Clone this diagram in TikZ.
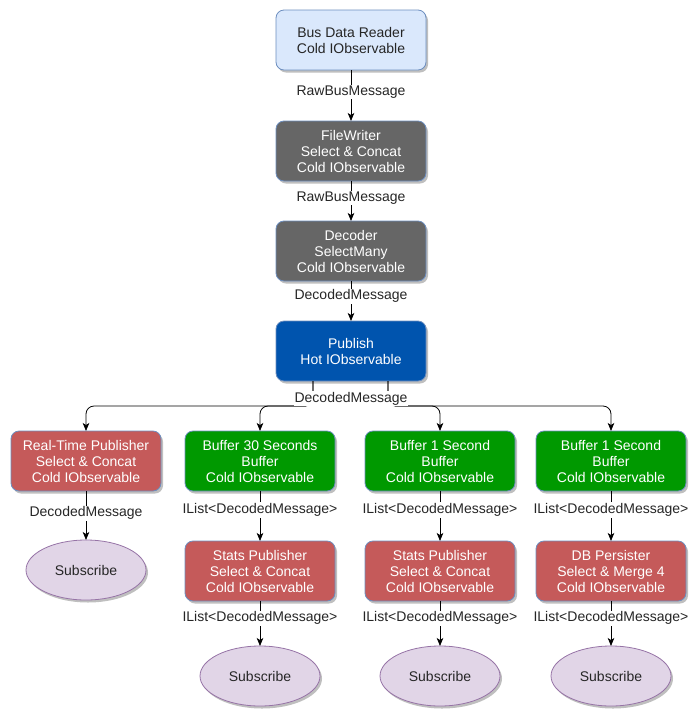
\documentclass[tikz,border=0pt]{standalone}
\usepackage{fontspec}
\setmainfont{Liberation Sans}
\usepackage{tikz}
\usetikzlibrary{positioning}
\usetikzlibrary{shapes.geometric}
\usetikzlibrary{shadows}
\usetikzlibrary{arrows.meta}

\definecolor{readerblue}{HTML}{DAE8FC}
\definecolor{edgeblue}{HTML}{6C8EBF}
\definecolor{opgray}{HTML}{666666}
\definecolor{hotblue}{HTML}{0054AE}
\definecolor{pubred}{HTML}{C55A5A}
\definecolor{bufgreen}{HTML}{009900}
\definecolor{subfill}{HTML}{E1D5E7}
\definecolor{subdraw}{HTML}{9673A6}

\begin{document}
\begin{tikzpicture}[
                          x=1pt, y=1pt,
                          font=\fontsize{14}{16}\selectfont,
                          box/.style={rectangle, rounded corners=8pt, draw=edgeblue, line width=0.8pt, minimum width=150pt, minimum height=60pt, inner sep=0pt, outer sep=0pt, align=center, drop shadow={shadow xshift=2pt, shadow yshift=-2.5pt, fill=black, opacity=0.25}},
                          readerbox/.style={box, fill=readerblue, text=black!85},
                          graybox/.style={box, fill=opgray, text=white},
                          hotbox/.style={box, fill=hotblue, text=white},
                          redbox/.style={box, fill=pubred, text=white},
                          greenbox/.style={box, fill=bufgreen, text=white},
                          subnode/.style={ellipse, draw=subdraw, fill=subfill, line width=0.8pt, minimum width=120pt, minimum height=60pt, inner sep=0pt, outer sep=0pt, text=black!85, drop shadow={shadow xshift=2pt, shadow yshift=-2.5pt, fill=black, opacity=0.25}},
                          lbl/.style={fill=white, inner sep=1pt, text=black!85},
                          flow/.style={-{Stealth[length=8pt, width=6.5pt, inset=2pt]}, line width=0.8pt},
                      ]
                      \useasboundingbox (0,0) rectangle (699,-721);

                      %Nodes
                      \node[readerbox]   (reader)                                        at (351,-40) {Bus Data Reader\\Cold IObservable};
                      \node[graybox]     (writer)   [below=51pt of reader]               {FileWriter\\Select \& Concat\\Cold IObservable};
                      \node[graybox]     (decoder)  [below=40pt of writer]               {Decoder\\SelectMany\\Cold IObservable};
                      \node[hotbox]      (publish)  [below=40pt of decoder]              {Publish\\Hot IObservable};
                      \node[redbox]      (rtpub)    [below=50pt of publish, xshift=-265pt] {Real-Time Publisher\\Select \& Concat\\Cold IObservable};
                      \node[greenbox]    (buf30)    [below=50pt of publish, xshift=-91pt]  {Buffer 30 Seconds\\Buffer\\Cold IObservable};
                      \node[greenbox]    (bufone)   [below=50pt of publish, xshift=89pt]   {Buffer 1 Second\\Buffer\\Cold IObservable};
                      \node[greenbox]    (bufdb)    [below=50pt of publish, xshift=260pt]  {Buffer 1 Second\\Buffer\\Cold IObservable};
                      \node[subnode]     (rtsub)    [below=49pt of rtpub]                {Subscribe};
                      \node[redbox]      (stats30)  [below=50pt of buf30]                {Stats Publisher\\Select \& Concat\\Cold IObservable};
                      \node[redbox]      (statsone) [below=50pt of bufone]               {Stats Publisher\\Select \& Concat\\Cold IObservable};
                      \node[redbox]      (persist)  [below=50pt of bufdb]                {DB Persister\\Select \& Merge 4\\Cold IObservable};
                      \node[subnode]     (sub30)    [below=45pt of stats30]              {Subscribe};
                      \node[subnode]     (subone)   [below=45pt of statsone]             {Subscribe};
                      \node[subnode]     (subdb)    [below=45pt of persist]              {Subscribe};

                      %Lines
                      \draw[flow] (reader) -- node[lbl, pos=0.43] {RawBusMessage} (writer);
                      \draw[flow] (writer) -- node[lbl, pos=0.43] {RawBusMessage} (decoder);
                      \draw[flow] (decoder) -- node[lbl, pos=0.38] {DecodedMessage} (publish);
                      \draw[flow, rounded corners=8pt] ([xshift=-38pt]publish.south) -- ++(0,-25) -| (rtpub.north);
                      \draw[flow, rounded corners=8pt] ([xshift=-38pt]publish.south) -- ++(0,-25) -| (buf30.north);
                      \draw[flow, rounded corners=8pt] ([xshift=37pt]publish.south) -- ++(0,-25) -| (bufone.north);
                      \draw[flow, rounded corners=8pt] ([xshift=37pt]publish.south) -- ++(0,-25) -| (bufdb.north);
                      \node[lbl]         (fanlbl)   [below=10pt of publish]              {DecodedMessage};
                      \draw[flow] (rtpub) -- node[lbl, pos=0.45] {DecodedMessage} (rtsub);
                      \draw[flow] (buf30) -- node[lbl, pos=0.38] {IList<DecodedMessage>} (stats30);
                      \draw[flow] (bufone) -- node[lbl, pos=0.38] {IList<DecodedMessage>} (statsone);
                      \draw[flow] (bufdb) -- node[lbl, pos=0.38] {IList<DecodedMessage>} (persist);
                      \draw[flow] (stats30) -- node[lbl, pos=0.38] {IList<DecodedMessage>} (sub30);
                      \draw[flow] (statsone) -- node[lbl, pos=0.38] {IList<DecodedMessage>} (subone);
                      \draw[flow] (persist) -- node[lbl, pos=0.38] {IList<DecodedMessage>} (subdb);
                  \end{tikzpicture}
\end{document}
